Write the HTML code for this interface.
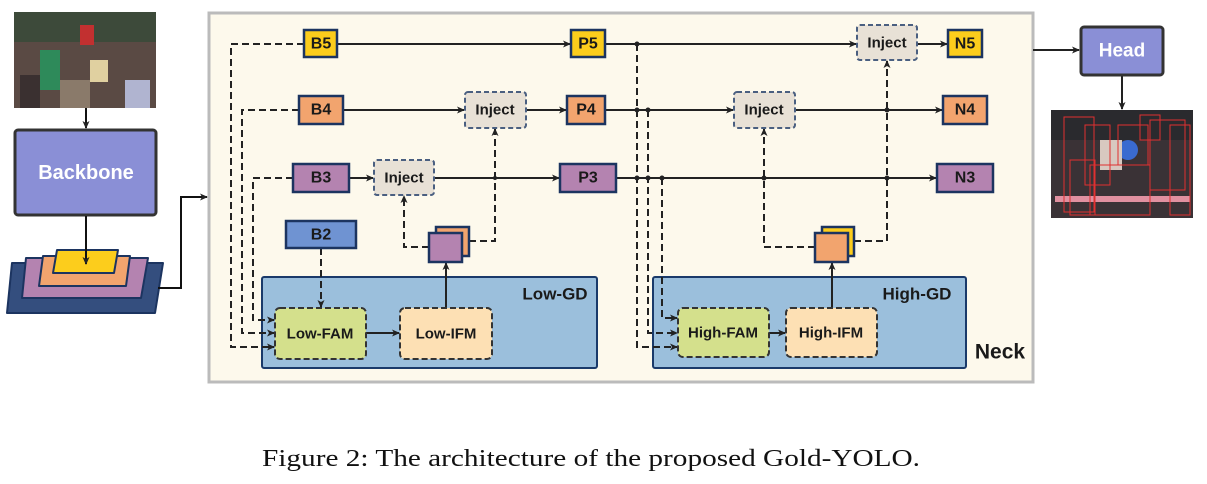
<!DOCTYPE html>
<html><head><meta charset="utf-8"><style>
html,body{margin:0;padding:0;background:#fff;}
svg{display:block;}
.lb{font-family:"Liberation Sans",sans-serif;font-weight:bold;font-size:15px;fill:#1a1a1a;text-anchor:middle;dominant-baseline:central;}
</style></head><body>
<svg width="1207" height="484" viewBox="0 0 1207 484" xmlns="http://www.w3.org/2000/svg">
<defs>
<marker id="ar" markerWidth="8" markerHeight="8" refX="7" refY="4" orient="auto" markerUnits="userSpaceOnUse">
<path d="M0,0.5 L8,4 L0,7.5 L2,4 Z" fill="#222"/></marker>
</defs>
<!-- input image -->
<rect x="14" y="12" width="142" height="96" fill="#5a4a44"/>
<rect x="14" y="12" width="142" height="30" fill="#3d4a3a"/>
<rect x="40" y="50" width="20" height="40" fill="#2e8a5a"/>
<rect x="80" y="25" width="14" height="20" fill="#c23030"/>
<rect x="90" y="60" width="18" height="22" fill="#e0d0a0"/>
<rect x="125" y="80" width="25" height="28" fill="#b0b4d0"/>
<rect x="60" y="80" width="30" height="28" fill="#8a7a6a"/>
<rect x="20" y="75" width="20" height="33" fill="#3a3030"/>
<!-- arrow down -->
<line x1="86" y1="108" x2="86" y2="128" stroke="#111" stroke-width="2" marker-end="url(#ar)"/>
<rect x="15" y="130" width="141" height="85" rx="3" fill="#8a8fd6" stroke="#333" stroke-width="3"/>
<text x="86" y="173" class="lb" style="fill:#fff;font-size:20px">Backbone</text>
<!-- stack -->
<path d="M12,263 L163,263 L155,313 L7,313 Z" fill="#344e7e" stroke="#1c3460" stroke-width="2" stroke-linejoin="round"/>
<path d="M26,258 L148,258 L141,298 L22,298 Z" fill="#b483b0" stroke="#1c3460" stroke-width="2" stroke-linejoin="round"/>
<path d="M43,256 L130,256 L126,286 L39,286 Z" fill="#f2a46e" stroke="#1c3460" stroke-width="2" stroke-linejoin="round"/>
<path d="M57,250 L118,250 L114,273 L53,273 Z" fill="#fccd1c" stroke="#1c3460" stroke-width="2" stroke-linejoin="round"/>
<line x1="86" y1="216" x2="86" y2="264" stroke="#111" stroke-width="2" marker-end="url(#ar)"/>
<path d="M158,288 L181,288 L181,197 L207,197" fill="none" stroke="#111" stroke-width="2" marker-end="url(#ar)"/>
<!-- Neck -->
<rect x="209" y="13" width="824" height="369" fill="#fdf9ec" stroke="#bbb" stroke-width="3"/>
<!-- GD boxes -->
<rect x="262" y="277" width="335" height="91" fill="#9bbfdc" stroke="#1a3a6a" stroke-width="2" rx="2"/>
<rect x="653" y="277" width="313" height="91" fill="#9bbfdc" stroke="#1a3a6a" stroke-width="2" rx="2"/>
<text x="555" y="294" class="lb" style="font-size:17px">Low-GD</text>
<text x="917" y="294" class="lb" style="font-size:17px">High-GD</text>
<text x="1000" y="352" class="lb" style="font-size:21px">Neck</text>
<g fill="none" stroke="#222" stroke-width="2">
<!-- solid main lines -->
<line x1="337" y1="44" x2="570" y2="44" marker-end="url(#ar)"/>
<line x1="605" y1="44" x2="856" y2="44" marker-end="url(#ar)"/>
<line x1="917" y1="44" x2="947" y2="44" marker-end="url(#ar)"/>
<line x1="343" y1="110" x2="464" y2="110" marker-end="url(#ar)"/>
<line x1="526" y1="110" x2="566" y2="110" marker-end="url(#ar)"/>
<line x1="605" y1="110" x2="733" y2="110" marker-end="url(#ar)"/>
<line x1="795" y1="110" x2="942" y2="110" marker-end="url(#ar)"/>
<line x1="349" y1="178" x2="373" y2="178" marker-end="url(#ar)"/>
<line x1="434" y1="178" x2="559" y2="178" marker-end="url(#ar)"/>
<line x1="616" y1="178" x2="936" y2="178" marker-end="url(#ar)"/>
<line x1="366" y1="333" x2="399" y2="333" marker-end="url(#ar)"/>
<line x1="446" y1="308" x2="446" y2="263" marker-end="url(#ar)"/>
<line x1="769" y1="333" x2="785" y2="333" marker-end="url(#ar)"/>
<line x1="832" y1="308" x2="832" y2="263" marker-end="url(#ar)"/>
<line x1="1033" y1="50" x2="1079" y2="50" marker-end="url(#ar)"/>
<line x1="1122" y1="76" x2="1122" y2="109" marker-end="url(#ar)"/>
</g>
<g fill="none" stroke="#222" stroke-width="2" stroke-dasharray="7,4">
<path d="M304,44 L231,44 L231,347 L274,347" marker-end="url(#ar)"/>
<path d="M299,110 L242,110 L242,333 L274,333" marker-end="url(#ar)"/>
<path d="M293,178 L253,178 L253,320 L274,320" marker-end="url(#ar)"/>
<path d="M321,248 L321,307" marker-end="url(#ar)"/>
<path d="M429,247 L404,247 L404,196" marker-end="url(#ar)"/>
<path d="M469,241 L495,241 L495,129" marker-end="url(#ar)"/>
<path d="M637,44 L637,347 L677,347" marker-end="url(#ar)"/>
<path d="M648,110 L648,333 L677,333" marker-end="url(#ar)"/>
<path d="M662,178 L662,318 L677,318" marker-end="url(#ar)"/>
<path d="M815,247 L764,247 L764,129" marker-end="url(#ar)"/>
<path d="M854,241 L887,241 L887,61" marker-end="url(#ar)"/>
</g>
<g fill="#222">
<circle cx="637" cy="44" r="2.5"/><circle cx="637" cy="110" r="2.5"/><circle cx="648" cy="110" r="2.5"/>
<circle cx="637" cy="178" r="2.5"/><circle cx="648" cy="178" r="2.5"/><circle cx="662" cy="178" r="2.5"/>
<circle cx="764" cy="178" r="2.5"/><circle cx="887" cy="178" r="2.5"/><circle cx="887" cy="110" r="2.5"/>
<circle cx="495" cy="178" r="2"/>
</g>
<!-- nodes -->
<g stroke="#1c3460" stroke-width="2.5">
<rect x="304" y="30" width="33" height="27" fill="#fccd1c"/>
<rect x="571" y="30" width="34" height="27" fill="#fccd1c"/>
<rect x="948" y="30" width="34" height="27" fill="#fccd1c"/>
<rect x="299" y="96" width="44" height="28" fill="#f2a46e"/>
<rect x="567" y="96" width="38" height="28" fill="#f2a46e"/>
<rect x="943" y="96" width="44" height="28" fill="#f2a46e"/>
<rect x="293" y="164" width="56" height="28" fill="#b483b0"/>
<rect x="560" y="164" width="56" height="28" fill="#b483b0"/>
<rect x="937" y="164" width="56" height="28" fill="#b483b0"/>
<rect x="286" y="221" width="70" height="27" fill="#6f93d2"/>
<rect x="436" y="227" width="33" height="29" fill="#f2a46e"/>
<rect x="429" y="233" width="33" height="29" fill="#b483b0"/>
<rect x="822" y="227" width="32" height="29" fill="#fccd1c"/>
<rect x="815" y="233" width="33" height="29" fill="#f2a46e"/>
</g>
<g stroke="#4a5f80" stroke-width="2" stroke-dasharray="5,3" fill="#e8e1d6">
<rect x="465" y="92" width="61" height="36" rx="3"/>
<rect x="374" y="160" width="60" height="35" rx="3"/>
<rect x="734" y="92" width="61" height="36" rx="3"/>
<rect x="857" y="25" width="60" height="35" rx="3"/>
</g>
<g stroke="#333" stroke-width="2" stroke-dasharray="6,3">
<rect x="275" y="308" width="91" height="51" rx="5" fill="#d4e08c"/>
<rect x="400" y="308" width="92" height="51" rx="5" fill="#fde0b4"/>
<rect x="678" y="308" width="91" height="49" rx="5" fill="#d4e08c"/>
<rect x="786" y="308" width="91" height="49" rx="5" fill="#fde0b4"/>
</g>
<text x="321" y="44" class="lb" style="font-size:16px">B5</text>
<text x="588" y="44" class="lb" style="font-size:16px">P5</text>
<text x="965" y="44" class="lb" style="font-size:16px">N5</text>
<text x="321" y="110" class="lb" style="font-size:16px">B4</text>
<text x="586" y="110" class="lb" style="font-size:16px">P4</text>
<text x="965" y="110" class="lb" style="font-size:16px">N4</text>
<text x="321" y="178" class="lb" style="font-size:16px">B3</text>
<text x="588" y="178" class="lb" style="font-size:16px">P3</text>
<text x="965" y="178" class="lb" style="font-size:16px">N3</text>
<text x="321" y="235" class="lb" style="font-size:16px">B2</text>
<text x="495" y="110" class="lb">Inject</text>
<text x="404" y="178" class="lb">Inject</text>
<text x="764" y="110" class="lb">Inject</text>
<text x="887" y="43" class="lb">Inject</text>
<text x="320" y="334" class="lb">Low-FAM</text>
<text x="446" y="334" class="lb">Low-IFM</text>
<text x="723" y="333" class="lb">High-FAM</text>
<text x="831" y="333" class="lb">High-IFM</text>
<!-- Head -->
<rect x="1081" y="27" width="82" height="48" rx="3" fill="#8a8fd6" stroke="#333" stroke-width="3"/>
<text x="1122" y="51" class="lb" style="fill:#fff;font-size:19px">Head</text>
<!-- output image -->
<rect x="1051" y="110" width="142" height="108" fill="#3a3236"/>
<rect x="1051" y="110" width="142" height="30" fill="#2a2a2e"/>
<circle cx="1128" cy="150" r="10" fill="#3a6ad0"/>
<rect x="1100" y="140" width="22" height="30" fill="#d8c8c0"/>
<rect x="1055" y="196" width="135" height="6" fill="#e090a0"/>
<g fill="none" stroke="#e03030" stroke-width="1">
<rect x="1064" y="117" width="30" height="95"/><rect x="1085" y="125" width="25" height="60"/>
<rect x="1118" y="125" width="30" height="40"/><rect x="1150" y="120" width="35" height="70"/>
<rect x="1090" y="165" width="60" height="50"/><rect x="1070" y="160" width="25" height="55"/>
<rect x="1140" y="115" width="20" height="25"/><rect x="1170" y="125" width="20" height="90"/>
</g>
<text x="591" y="466" textLength="658" lengthAdjust="spacingAndGlyphs" style="font-family:'Liberation Serif',serif;font-size:24px;fill:#111;text-anchor:middle">Figure 2: The architecture of the proposed Gold-YOLO.</text>
</svg>
</body></html>
